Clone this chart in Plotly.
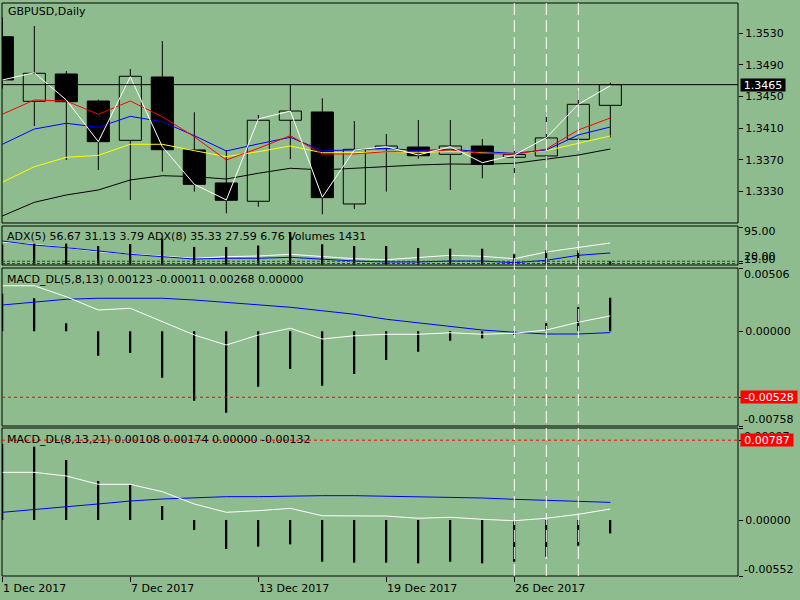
import plotly.graph_objects as go

BG = "#8FBC8F"
FONT = "DejaVu Sans"

# ---- data ----
bars = list(range(20))
tick_bars = [0, 4, 8, 12, 16]
tick_labels = ["1 Dec 2017", "7 Dec 2017", "13 Dec 2017", "19 Dec 2017", "26 Dec 2017"]

opens = [1.35257, 1.34439, 1.34785, 1.34443, 1.33945, 1.34747, 1.33823, 1.33405, 1.33173, 1.34199,
         1.34304, 1.33139, 1.33839, 1.33860, 1.33768, 1.33873, 1.33730, 1.33747, 1.33958, 1.34388]
closes = [1.34709, 1.34794, 1.34434, 1.33928, 1.34756, 1.33826, 1.33388, 1.33186, 1.34199, 1.34316,
          1.33219, 1.33831, 1.33873, 1.33750, 1.33873, 1.33642, 1.33766, 1.33975, 1.34401, 1.34650]
highs = [1.35500, 1.35392, 1.34823, 1.34460, 1.34848, 1.35203, 1.34300, 1.33823, 1.34266, 1.34658,
         1.34477, 1.34190, 1.34025, 1.34202, 1.34202, 1.33962, 1.33886, 1.34304, 1.34573, 1.34675]
lows = [1.34600, 1.34126, 1.33696, 1.33569, 1.33190, 1.33548, 1.33295, 1.33021, 1.33105, 1.33705,
        1.33009, 1.33076, 1.33295, 1.33713, 1.33316, 1.33464, 1.33472, 1.33680, 1.33950, 1.33982]

ma_white = [1.34709, 1.34801, 1.34456, 1.33928, 1.34751, 1.33864, 1.33388, 1.33190, 1.34215, 1.34316,
            1.33224, 1.33823, 1.33864, 1.33759, 1.33864, 1.33662, 1.33759, 1.33978, 1.34401, 1.34637]
ma_red = [1.34275, 1.34456, 1.34443, 1.34275, 1.34443, 1.34244, 1.33990, 1.33696, 1.33844, 1.34004,
          1.33772, 1.33772, 1.33801, 1.33801, 1.33823, 1.33781, 1.33768, 1.33835, 1.34076, 1.34228]
ma_blue = [1.33895, 1.34088, 1.34161, 1.34110, 1.34249, 1.34181, 1.34004, 1.33810, 1.33899, 1.33983,
           1.33814, 1.33823, 1.33844, 1.33814, 1.33831, 1.33801, 1.33781, 1.33823, 1.34013, 1.34114]
ma_yellow = [1.33414, 1.33611, 1.33730, 1.33755, 1.33895, 1.33895, 1.33814, 1.33738, 1.33801, 1.33873,
             1.33788, 1.33788, 1.33801, 1.33788, 1.33806, 1.33788, 1.33781, 1.33814, 1.33907, 1.34000]
ma_black = [1.32987, 1.33160, 1.33253, 1.33316, 1.33443, 1.33497, 1.33485, 1.33455, 1.33528, 1.33591,
            1.33570, 1.33591, 1.33620, 1.33633, 1.33645, 1.33642, 1.33654, 1.33705, 1.33759, 1.33835]

adx_white = [62.2, 57.1, 49.7, 40.9, 35.9, 31.5, 26.5, 30.0, 31.5, 35.2,
             30.0, 25.6, 23.4, 27.8, 33.0, 30.8, 25.6, 40.3, 49.7, 60.0]
adx_blue = [64.3, 55.6, 49.7, 42.4, 35.2, 30.0, 24.9, 26.5, 26.5, 28.6,
            24.3, 20.5, 18.4, 18.4, 20.5, 20.5, 16.8, 22.1, 33.0, 38.1]
volumes = [9000, 9400, 9400, 8300, 9200, 11700, 7900, 7900, 8550, 14600,
           9100, 8300, 8300, 7400, 7100, 7100, 4600, 6400, 6400, 1431]

macd1_hist = [0.00300, 0.00264, 0.00064, -0.00196, -0.00174, -0.00372, -0.00556, -0.00652, -0.00444, -0.00302,
              -0.00436, -0.00342, -0.00230, -0.00164, -0.00076, -0.00057, -0.00030, 0.00064, 0.00194, 0.00268]
macd1_white = [0.00364, 0.00364, 0.00276, 0.00170, 0.00184, 0.00076, -0.00030, -0.00110, -0.00030, 0.00024,
               -0.00062, -0.00036, -0.00024, -0.00024, -0.00012, -0.00024, -0.00016, 0.00010, 0.00072, 0.00123]
macd1_blue = [0.00210, 0.00232, 0.00256, 0.00264, 0.00264, 0.00264, 0.00250, 0.00232, 0.00216, 0.00192,
              0.00164, 0.00136, 0.00096, 0.00068, 0.00042, 0.00010, -0.00008, -0.00022, -0.00022, -0.00011]

macd2_hist = [0.00750, 0.00723, 0.00592, 0.00385, 0.00345, 0.00138, -0.00099, -0.00286, -0.00263, -0.00240,
              -0.00411, -0.00421, -0.00421, -0.00427, -0.00411, -0.00427, -0.00411, -0.00362, -0.00253, -0.00132]
macd2_white = [0.00470, 0.00470, 0.00434, 0.00352, 0.00352, 0.00279, 0.00158, 0.00076, 0.00092, 0.00115,
               0.00042, 0.00042, 0.00039, 0.00017, 0.00027, 0.00007, -0.00007, 0.00017, 0.00056, 0.00108]
macd2_blue = [0.00076, 0.00106, 0.00131, 0.00158, 0.00187, 0.00207, 0.00220, 0.00230, 0.00230, 0.00237,
              0.00240, 0.00240, 0.00234, 0.00234, 0.00224, 0.00217, 0.00204, 0.00194, 0.00184, 0.00174]

last_price = 1.3465
macd1_level = -0.00528
macd2_level = 0.00787
adx_levels = [20, 15]
marked_bars = [16, 17, 18]


# pixel row -> paper coordinate (plot area spans rows 3..576)
def py(pix):
    return (576 - pix) / 573


D_MAIN = [py(223), 1.0]
D_ADX = [py(265), py(226)]
D_M1 = [py(426), py(268)]
D_M2 = [0.0, py(428)]

fig = go.Figure()

# candles: bodies as bars, wicks as line segments
body_colors = [BG if c >= o else "black" for o, c in zip(opens, closes)]
fig.add_trace(go.Bar(x=bars, y=[c - o for o, c in zip(opens, closes)], base=opens, width=0.69,
                     marker=dict(color=body_colors, line=dict(color="black", width=1)),
                     yaxis="y"))
wick_x, wick_y = [], []
for i in bars:
    top, bot = max(opens[i], closes[i]), min(opens[i], closes[i])
    wick_x += [i, i, None, i, i, None]
    wick_y += [highs[i], top, None, bot, lows[i], None]
fig.add_trace(go.Scatter(x=wick_x, y=wick_y, mode="lines", line=dict(color="black", width=1), yaxis="y"))

for vals, col in [(ma_black, "black"), (ma_yellow, "#FFFF00"), (ma_blue, "#0000FF"),
                  (ma_red, "#FF0000"), (ma_white, "white")]:
    fig.add_trace(go.Scatter(x=bars, y=vals, mode="lines", line=dict(color=col, width=1), yaxis="y"))

# ADX + volumes
fig.add_trace(go.Bar(x=bars, y=volumes, width=0.06, marker=dict(color="black", line=dict(width=0)), yaxis="y3"))
fig.add_trace(go.Scatter(x=bars, y=adx_white, mode="lines", line=dict(color="white", width=1), yaxis="y2"))
fig.add_trace(go.Scatter(x=bars, y=adx_blue, mode="lines", line=dict(color="#0000FF", width=1), yaxis="y2"))

# MACD panes
fig.add_trace(go.Bar(x=bars, y=macd1_hist, width=0.06, marker=dict(color="black", line=dict(width=0)), yaxis="y4"))
fig.add_trace(go.Scatter(x=bars, y=macd1_blue, mode="lines", line=dict(color="#0000FF", width=1), yaxis="y4"))
fig.add_trace(go.Scatter(x=bars, y=macd1_white, mode="lines", line=dict(color="white", width=1), yaxis="y4"))

fig.add_trace(go.Bar(x=bars, y=macd2_hist, width=0.06, marker=dict(color="black", line=dict(width=0)), yaxis="y5"))
fig.add_trace(go.Scatter(x=bars, y=macd2_blue, mode="lines", line=dict(color="#0000FF", width=1), yaxis="y5"))
fig.add_trace(go.Scatter(x=bars, y=macd2_white, mode="lines", line=dict(color="white", width=1), yaxis="y5"))

tickfont = dict(family=FONT, size=11, color="black")
yax = dict(showgrid=False, zeroline=False, showline=False, side="right", anchor="x",
           ticks="outside", ticklen=4, tickcolor="black", tickfont=tickfont, fixedrange=True)

shapes = []
for d in (D_MAIN, D_ADX, D_M1, D_M2):
    shapes.append(dict(type="rect", xref="paper", yref="paper", x0=0, x1=1, y0=d[0], y1=d[1],
                       line=dict(color="black", width=1)))
shapes.append(dict(type="line", xref="paper", yref="y", x0=0, x1=1, y0=last_price, y1=last_price,
                   line=dict(color="black", width=1)))
for lv in adx_levels:
    shapes.append(dict(type="line", xref="paper", yref="y2", x0=0, x1=1, y0=lv, y1=lv,
                       line=dict(color="#006400", width=1, dash="3px,2px")))
shapes.append(dict(type="line", xref="paper", yref="y4", x0=0, x1=1, y0=macd1_level, y1=macd1_level,
                   line=dict(color="#FF0000", width=1, dash="3px,3px")))
shapes.append(dict(type="line", xref="paper", yref="y5", x0=0, x1=1, y0=macd2_level, y1=macd2_level,
                   line=dict(color="#FF0000", width=1, dash="3px,3px")))
for b in marked_bars:
    shapes.append(dict(type="line", xref="x", yref="paper", x0=b, x1=b, y0=0, y1=1,
                       line=dict(color="white", width=1, dash="12px,5px")))


def note(text, pix, xshift=3):
    return dict(text=text, xref="paper", yref="paper", x=0, y=py(pix), xanchor="left", yanchor="middle",
                xshift=xshift, showarrow=False, font=tickfont)


def side_label(text, pix):
    return dict(text=text, xref="paper", yref="paper", x=1, y=py(pix), xanchor="left", yanchor="middle",
                xshift=4, showarrow=False, font=tickfont)


def boxed(text, yref, yval, color, w):
    return dict(text=text, xref="paper", yref=yref, x=1, y=yval, xanchor="left", yanchor="middle",
                xshift=2, showarrow=False, bgcolor=color, borderpad=0, width=w, height=12,
                font=dict(family=FONT, size=11, color="white"))


annotations = [
    note("GBPUSD,Daily", 12, 4),
    note("ADX(5) 56.67 31.13 3.79 ADX(8) 35.33 27.59 6.76 Volumes 1431", 236.5),
    note("MACD_DL(5,8,13) 0.00123 -0.00011 0.00268 0.00000", 279),
    note("MACD_DL(8,13,21) 0.00108 0.00174 0.00000 -0.00132", 439.5),
    side_label("95.00", 232),
    side_label("20.00", 256),
    side_label("15.00", 259),
    side_label("0.00506", 274),
    side_label("-0.00758", 419),
    side_label("0.00907", 436),
    side_label("-0.00552", 569),
    boxed("1.3465", "y", last_price, "black", 44),
    boxed("-0.00528", "y4", macd1_level, "#FF0000", 56),
    boxed("0.00787", "y5", macd2_level, "#FF0000", 52),
]
for b, lab in zip(tick_bars, tick_labels):
    annotations.append(dict(text=lab, xref="x", yref="paper", x=b, y=py(588), xanchor="left",
                            yanchor="middle", xshift=-1, showarrow=False, font=tickfont))

fig.update_layout(
    width=800, height=600,
    margin=dict(l=2, r=62, t=3, b=24),
    paper_bgcolor=BG, plot_bgcolor=BG,
    showlegend=False, barmode="overlay",
    xaxis=dict(domain=[0, 1], range=[-0.01, 22.99], anchor="y5", showgrid=False, zeroline=False,
               showline=False, tickvals=tick_bars, showticklabels=False, ticks="outside", ticklen=5,
               tickcolor="black", fixedrange=True),
    yaxis=dict(yax, domain=D_MAIN, range=[1.32898, 1.35684],
               tickvals=[1.3530, 1.3490, 1.3450, 1.3410, 1.3370, 1.3330], tickformat=".4f"),
    yaxis2=dict(yax, domain=D_ADX, range=[11.78, 97.19], tickvals=[95, 20, 15], ticktext=["", "", ""]),
    yaxis3=dict(domain=D_ADX, range=[-220, 17330], overlaying="y2", visible=False, fixedrange=True),
    yaxis4=dict(yax, domain=D_M1, range=[-0.00758, 0.00506], tickvals=[0.00506, 0, macd1_level, -0.00758],
                ticktext=["", "0.00000", "", ""]),
    yaxis5=dict(yax, domain=D_M2, range=[-0.00552, 0.00907], tickvals=[0.00907, macd2_level, 0, -0.00552],
                ticktext=["", "", "0.00000", ""]),
    shapes=shapes,
    annotations=annotations,
)

# the page body has a default 8px margin; drop it so the chart sits at the window's corner
fig.write_html("out.html", config={"displayModeBar": False},
               post_script="document.body.style.margin='0';")
